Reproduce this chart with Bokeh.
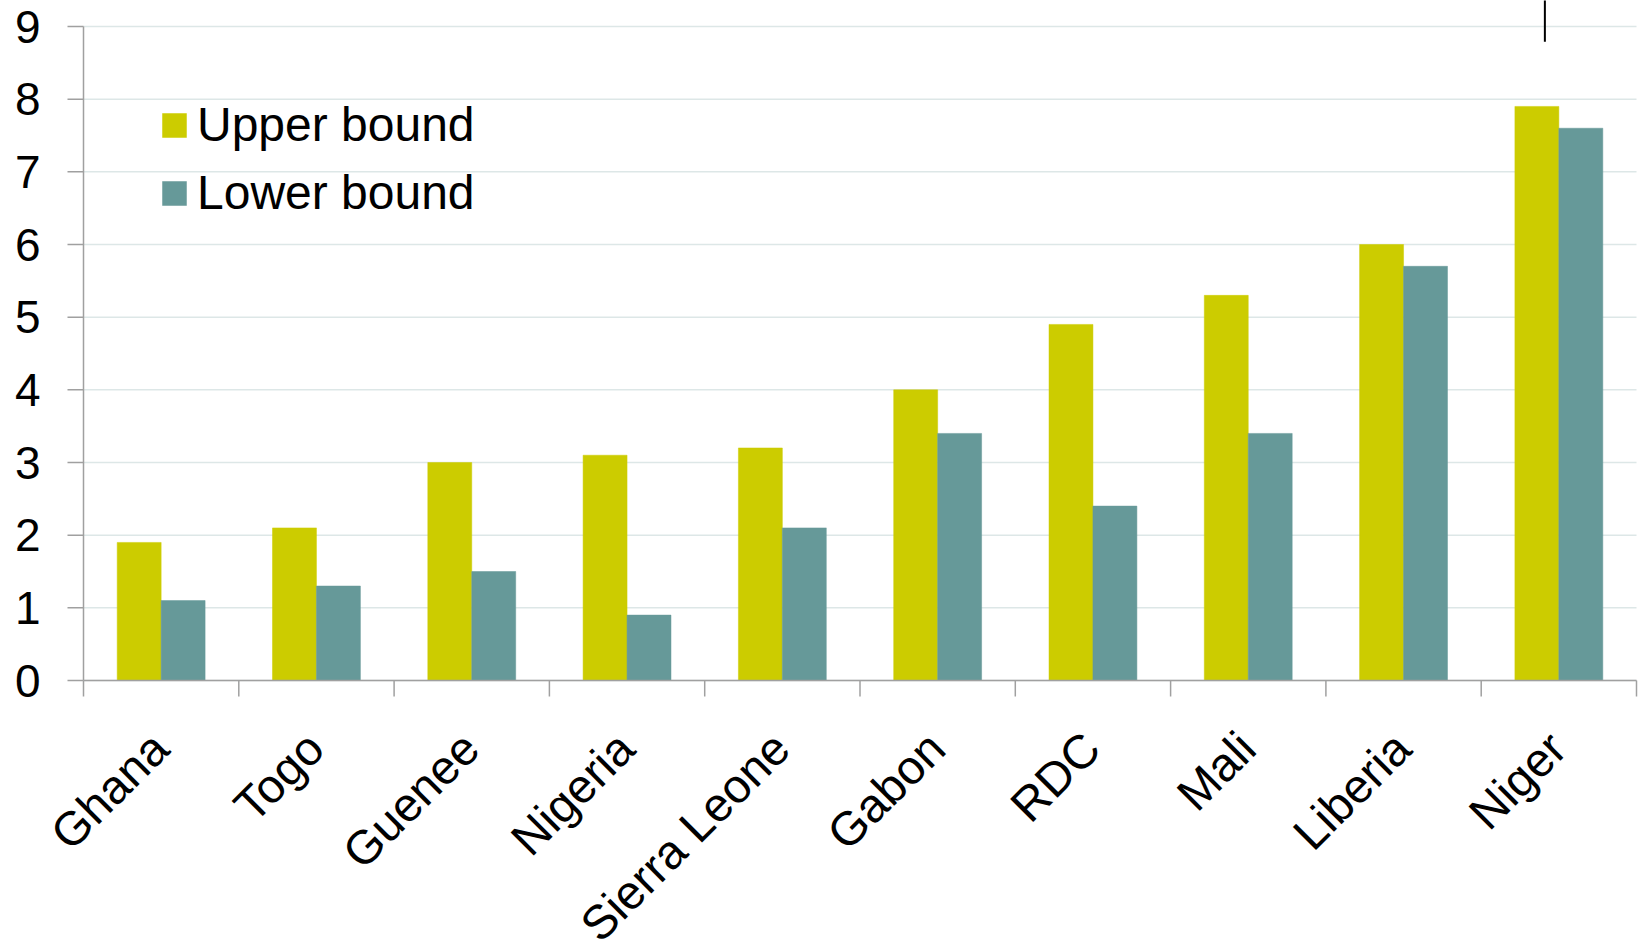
import numpy as np
from bokeh.plotting import figure
from bokeh.models import ColumnDataSource, Range1d
from bokeh.core.properties import value
from bokeh.embed import file_html
from bokeh.resources import INLINE

# Countries and the two bound estimates for each
countries = ["Ghana", "Togo", "Guenee", "Nigeria", "Sierra Leone",
             "Gabon", "RDC", "Mali", "Liberia", "Niger"]
upper_bound = [1.9, 2.1, 3.0, 3.1, 3.2, 4.0, 4.9, 5.3, 6.0, 7.9]
lower_bound = [1.1, 1.3, 1.5, 0.9, 2.1, 3.4, 2.4, 3.4, 5.7, 7.6]
y_ticks = [0, 1, 2, 3, 4, 5, 6, 7, 8, 9]
y_tick_labels = [str(t) for t in y_ticks]

# small vertical marker above the Niger group
marker_x = [9.41]
marker_y = [(8.79, 9.4)]

UPPER_COLOR = "#CCCC00"
LOWER_COLOR = "#669999"
GRID_COLOR = "#DDE7E7"
AXIS_COLOR = "#A0A0A0"
FONT = "Liberation Sans"

W, H = 1638, 942
LEFT, RIGHT = 83, 2            # room left of the value axis / right of the last group
TOP_PAD, BOTTOM_PAD = 26, 262  # room above 9 and below 0 (for the names)
n = len(countries)
y_max = max(y_ticks)
PX_Y = (H - TOP_PAD - BOTTOM_PAD) / y_max   # pixels per value unit
PX_X = (W - LEFT - RIGHT) / n               # pixels per category
TICK = 16

centers = np.arange(n) + 0.5
boundaries = np.arange(n + 1)
bar_w = 0.283

src = ColumnDataSource(dict(
    x_up=centers - bar_w / 2,
    x_lo=centers + bar_w / 2,
    upper=upper_bound,
    lower=lower_bound,
))

# the plotting frame covers the whole canvas; axes are drawn as glyphs
p = figure(width=W, height=H, output_backend="svg", toolbar_location=None,
           x_range=Range1d(-LEFT / PX_X, n + RIGHT / PX_X),
           y_range=Range1d(-BOTTOM_PAD / PX_Y, y_max + TOP_PAD / PX_Y),
           min_border=0)
p.outline_line_color = None
p.background_fill_color = "white"
p.border_fill_color = "white"
p.xaxis.visible = False
p.yaxis.visible = False
p.grid.visible = False

# horizontal gridlines
p.segment(x0=np.zeros(len(y_ticks)), y0=y_ticks, x1=np.full(len(y_ticks), n),
          y1=y_ticks, line_color=GRID_COLOR, line_width=1.5)

p.vbar(x="x_up", top="upper", width=bar_w, source=src, fill_color=UPPER_COLOR,
       line_color=UPPER_COLOR, line_width=0.5, legend_label="Upper bound")
p.vbar(x="x_lo", top="lower", width=bar_w, source=src, fill_color=LOWER_COLOR,
       line_color=LOWER_COLOR, line_width=0.5, legend_label="Lower bound")

p.segment(x0=marker_x, y0=[marker_y[0][0]], x1=marker_x, y1=[marker_y[0][1]],
          line_color="black", line_width=2)

# value axis: line, outward ticks, labels
p.segment(x0=[0], y0=[0], x1=[0], y1=[y_max], line_color=AXIS_COLOR, line_width=1.5)
p.segment(x0=np.full(len(y_ticks), -TICK / PX_X), y0=y_ticks,
          x1=np.zeros(len(y_ticks)), y1=y_ticks, line_color=AXIS_COLOR, line_width=1.5)
p.text(x=np.zeros(len(y_ticks)), y=y_ticks, text=y_tick_labels, x_offset=-(TICK + 27),
       text_align="right", text_baseline="middle", text_font=value(FONT),
       text_font_size="46px", text_color="black")

# category axis: baseline, boundary ticks, rotated country names
p.segment(x0=[0], y0=[0], x1=[n], y1=[0], line_color=AXIS_COLOR, line_width=1.5)
p.segment(x0=boundaries, y0=np.zeros(n + 1), x1=boundaries,
          y1=np.full(n + 1, -TICK / PX_Y), line_color=AXIS_COLOR, line_width=1.5)
p.text(x=centers, y=np.zeros(n), text=countries, angle=np.pi / 4,
       text_align="right", text_baseline="top", x_offset=-20, y_offset=41,
       text_font=value(FONT), text_font_size="47.5px", text_color="black")

leg = p.legend[0]
leg.location = (159, 460 + BOTTOM_PAD)
leg.orientation = "vertical"
leg.padding = 0
leg.margin = 0
leg.spacing = 13
leg.glyph_width = 30
leg.glyph_height = 30
leg.label_standoff = 8
leg.label_text_font = FONT
leg.label_text_font_size = "48px"
leg.label_text_color = "black"
leg.border_line_color = None
leg.background_fill_alpha = 0

open("out.html", "w").write(file_html(p, INLINE))
